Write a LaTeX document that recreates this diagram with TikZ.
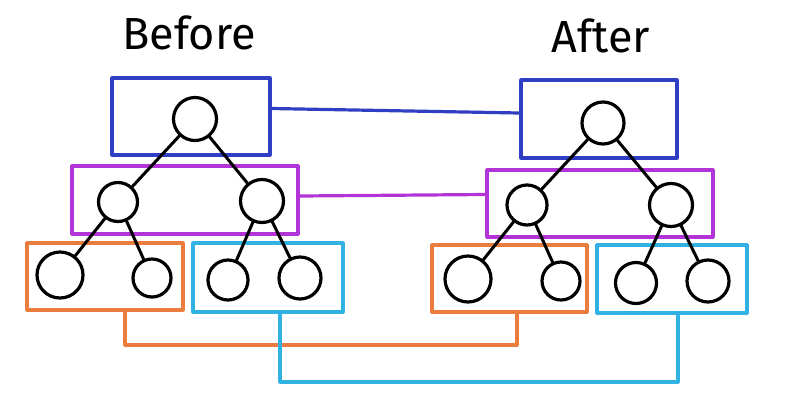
\documentclass[tikz,border=0pt]{standalone}
\usepackage{fontspec}
\setmainfont{Fira Sans}
\definecolor{cblue}{RGB}{48,62,196}
\definecolor{cpurple}{RGB}{178,52,214}
\definecolor{corange}{RGB}{234,124,62}
\definecolor{ccyan}{RGB}{48,178,226}
\begin{document}
\begin{tikzpicture}[x=1pt,y=-1pt,
  grp/.style={draw,line width=3.2pt,inner sep=0pt,line join=round},
  nd/.style={circle,draw=black,line width=3.2pt,inner sep=0pt},
  tedge/.style={line width=3pt,black,line cap=round},
  link/.style={line width=3.2pt,line join=round},
  title/.style={font=\fontsize{45}{52}\selectfont,anchor=base}]
\useasboundingbox (0,0) rectangle (794,416);
% titles
\node[title] (tb) at (189,49) {Before};
\node[title] (ta) at (601,52) {After};
% group boxes left
\node[grp,draw=cblue,minimum width=158pt,minimum height=77pt] (lb) at (191,116.5) {};
\node[grp,draw=cpurple,minimum width=226pt,minimum height=68pt] (lp) at (185,200) {};
\node[grp,draw=corange,minimum width=156pt,minimum height=67pt] (lo) at (105,276.5) {};
\node[grp,draw=ccyan,minimum width=150pt,minimum height=69pt] (lc) at (268,277.5) {};
% group boxes right
\node[grp,draw=cblue,minimum width=156pt,minimum height=78pt] (rb) at (599,119) {};
\node[grp,draw=cpurple,minimum width=226pt,minimum height=67pt] (rp) at (600,203.5) {};
\node[grp,draw=corange,minimum width=155pt,minimum height=67pt] (ro) at (509.5,278.5) {};
\node[grp,draw=ccyan,minimum width=150pt,minimum height=68pt] (rc) at (672,279) {};
% tree left
\node[nd,minimum size=43pt] (l0) at (195,119) {};
\node[nd,minimum size=39pt] (l1) at (118,202) {};
\node[nd,minimum size=43pt] (l2) at (262,201) {};
\node[nd,minimum size=46pt] (l3) at (60,275) {};
\node[nd,minimum size=38pt] (l4) at (152,278) {};
\node[nd,minimum size=40pt] (l5) at (228,280) {};
\node[nd,minimum size=42pt] (l6) at (300,278) {};
\draw[tedge] (l0) -- (l1);
\draw[tedge] (l0) -- (l2);
\draw[tedge] (l1) -- (l3);
\draw[tedge] (l1) -- (l4);
\draw[tedge] (l2) -- (l5);
\draw[tedge] (l2) -- (l6);
% tree right
\node[nd,minimum size=42pt] (r0) at (603,123) {};
\node[nd,minimum size=40pt] (r1) at (527,205) {};
\node[nd,minimum size=43pt] (r2) at (671,205) {};
\node[nd,minimum size=46pt] (r3) at (468,279) {};
\node[nd,minimum size=38pt] (r4) at (561,281) {};
\node[nd,minimum size=41pt] (r5) at (636,283) {};
\node[nd,minimum size=42pt] (r6) at (708,281) {};
\draw[tedge] (r0) -- (r1);
\draw[tedge] (r0) -- (r2);
\draw[tedge] (r1) -- (r3);
\draw[tedge] (r1) -- (r4);
\draw[tedge] (r2) -- (r5);
\draw[tedge] (r2) -- (r6);
% links
\draw[link,cblue] ([yshift=8pt]lb.east) -- ([yshift=6pt]rb.west);
\draw[link,cpurple] ([yshift=4pt]lp.east) -- ([yshift=9pt]rp.west);
\coordinate (o1) at (125,345);
\coordinate (o2) at (517,345);
\draw[link,corange] (lo.south -| o1) -- (o1) -- (o2) -- (ro.south -| o2);
\coordinate (c1) at (280,382);
\coordinate (c2) at (678,382);
\draw[link,ccyan] (lc.south -| c1) -- (c1) -- (c2) -- (rc.south -| c2);
\end{tikzpicture}
\end{document}
